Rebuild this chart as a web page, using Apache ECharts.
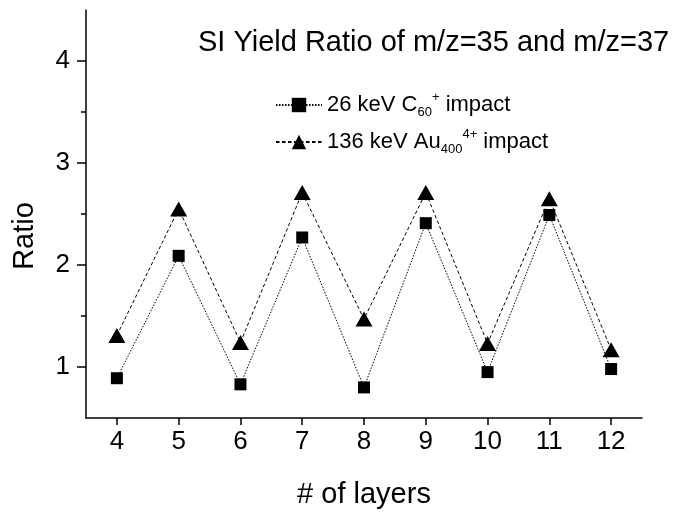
<!DOCTYPE html>
<html style="height: 100%">
<head>
<meta charset="utf-8">
<script src="https://cdn.jsdelivr.net/npm/echarts@6/dist/echarts.min.js"></script>
</head>
<body style="height: 100%; margin: 0; background: #fff">
<div id="container" style="width: 676px; height: 516px"></div>
<script type="text/javascript">
// data
var layers = [4, 5, 6, 7, 8, 9, 10, 11, 12];
var c60Ratio = [0.89, 2.09, 0.83, 2.27, 0.80, 2.41, 0.95, 2.49, 0.98];
var au400Ratio = [1.31, 2.55, 1.24, 2.71, 1.47, 2.71, 1.23, 2.65, 1.17];
var yTicks = [1, 2, 3, 4];
var yMinorTicks = [1.5, 2.5, 3.5];
var seriesNames = ['c60', 'au400'];

var font = 'Liberation Sans, Arial, sans-serif';

function pairs(xs, ys) {
    return xs.map(function (x, i) { return [x, ys[i]]; });
}

var dom = document.getElementById('container');
var myChart = echarts.init(dom);

var option = {
    animation: false,
    title: {
        text: 'SI Yield Ratio of m/z=35 and m/z=37',
        left: 193,
        top: 23,
        textStyle: { fontFamily: font, fontSize: 29, fontWeight: 'normal', color: '#000' }
    },
    legend: {
        data: seriesNames,
        orient: 'vertical',
        left: 270,
        top: 86,
        itemGap: 9,
        itemWidth: 46,
        itemHeight: 18,
        formatter: function (name) {
            if (name === 'c60') return '26 keV C{sub|60}{sup|+} impact';
            return '136 keV Au{sub|400}{sup|4+} impact';
        },
        textStyle: {
            fontFamily: font, fontSize: 22, color: '#000', lineHeight: 28,
            rich: {
                sub: { fontFamily: font, fontSize: 13, lineHeight: 13, verticalAlign: 'bottom', color: '#000' },
                sup: { fontFamily: font, fontSize: 13, lineHeight: 13, verticalAlign: 'top', color: '#000' }
            }
        }
    },
    grid: { left: 86, right: 34, top: 10, bottom: 98, outerBoundsMode: 'none' },
    xAxis: {
        type: 'value',
        min: 3.5,
        max: 12.5,
        name: '# of layers',
        nameLocation: 'middle',
        nameGap: 62,
        nameTextStyle: { fontFamily: font, fontSize: 29, color: '#000' },
        splitLine: { show: false },
        axisLine: { lineStyle: { color: '#000', width: 1.5 } },
        axisTick: { customValues: layers, length: 7, inside: false, lineStyle: { color: '#000', width: 1.5 } },
        axisLabel: { customValues: layers, margin: 11, fontFamily: font, fontSize: 26, color: '#000' }
    },
    yAxis: [{
        type: 'value',
        min: 0.5,
        max: 4.5,
        name: 'Ratio',
        nameLocation: 'middle',
        nameGap: 47,
        nameTextStyle: { fontFamily: font, fontSize: 29, color: '#000', padding: [0, 44, 0, 0] },
        splitLine: { show: false },
        axisLine: { lineStyle: { color: '#000', width: 1.5 } },
        axisTick: { customValues: yTicks, length: 9, lineStyle: { color: '#000', width: 1.5 } },
        axisLabel: { customValues: yTicks, margin: 16, fontFamily: font, fontSize: 26, color: '#000' }
    }, {
        type: 'value',
        position: 'left',
        min: 0.5,
        max: 4.5,
        splitLine: { show: false },
        axisLine: { show: false },
        axisTick: { customValues: yMinorTicks, length: 5, lineStyle: { color: '#000', width: 1.5 } },
        axisLabel: { show: false }
    }],
    series: [{
        name: 'c60',
        type: 'line',
        data: pairs(layers, c60Ratio),
        symbol: 'rect',
        symbolSize: 12,
        itemStyle: { color: '#000' },
        lineStyle: { color: '#000', width: 1, type: [1.5, 1.5] }
    }, {
        name: 'au400',
        type: 'line',
        data: pairs(layers, au400Ratio),
        symbol: 'triangle',
        symbolSize: [17, 15],
        itemStyle: { color: '#000' },
        lineStyle: { color: '#000', width: 1, type: [3.5, 2.5] }
    }]
};

if (option && typeof option === 'object') {
    myChart.setOption(option, true);
}
</script>
</body>
</html>
